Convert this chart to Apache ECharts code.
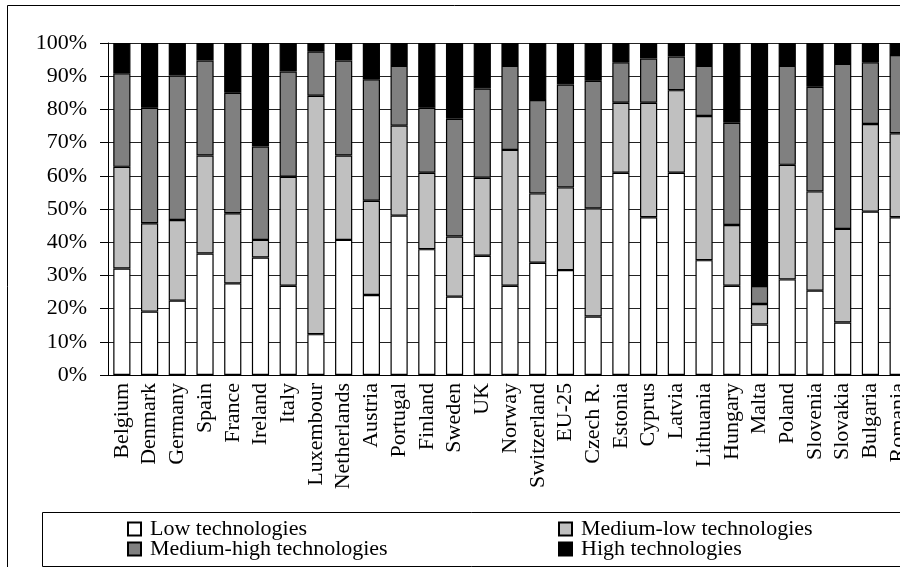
<!DOCTYPE html>
<html>
<head>
<meta charset="utf-8">
<title>Technology levels by country</title>
<script src="https://cdn.jsdelivr.net/npm/echarts/dist/echarts.min.js"></script>
<style>
  html, body { margin: 0; padding: 0; background: #fff; }
  #chart { width: 900px; height: 567px; }
</style>
</head>
<body>
<div id="chart"></div>
<script>
// shares in %
const countries = ['Belgium', 'Denmark', 'Germany', 'Spain', 'France', 'Ireland', 'Italy', 'Luxembour',
  'Netherlands', 'Austria', 'Portugal', 'Finland', 'Sweden', 'UK', 'Norway', 'Switzerland', 'EU-25',
  'Czech R.', 'Estonia', 'Cyprus', 'Latvia', 'Lithuania', 'Hungary', 'Malta', 'Poland', 'Slovenia',
  'Slovakia', 'Bulgaria', 'Romania']

const lowTech = [32.1, 19.1, 22.4, 36.6, 27.6, 35.4, 26.9, 12.3, 40.7, 24.1, 48.0, 37.9, 23.6, 35.9, 26.9,
  33.8, 31.6, 17.6, 60.9, 47.5, 60.9, 34.6, 26.9, 15.2, 28.8, 25.4, 15.8, 49.2, 47.5]
const mediumLowTech = [30.6, 26.6, 24.3, 29.5, 21.1, 5.3, 32.8, 71.8, 25.4, 28.4, 27.1, 23.0, 18.1, 23.5, 40.9,
  20.9, 24.9, 32.6, 21.1, 34.5, 24.9, 43.4, 18.3, 6.2, 34.5, 29.9, 28.2, 26.4, 25.3]
const mediumHighTech = [28.2, 34.8, 43.5, 28.6, 36.3, 28.1, 31.7, 13.3, 28.6, 36.6, 18.0, 19.6, 35.5, 26.9, 25.3,
  28.1, 31.0, 38.4, 12.2, 13.3, 10.1, 15.1, 30.8, 5.4, 29.8, 31.5, 49.7, 18.6, 23.6]
const highTech = [9.1, 19.5, 9.8, 5.3, 15.0, 31.2, 8.6, 2.6, 5.3, 10.9, 6.9, 19.5, 22.8, 13.7, 6.9,
  17.2, 12.5, 11.4, 5.8, 4.7, 4.1, 6.9, 24.0, 73.2, 6.9, 13.2, 6.3, 5.8, 3.6]

const seriesNames = ['Low technologies', 'Medium-low technologies', 'Medium-high technologies', 'High technologies']
const seriesColors = ['#ffffff', '#c0c0c0', '#808080', '#000000']
const seriesData = [lowTech, mediumLowTech, mediumHighTech, highTech]

const font = 'Liberation Serif'

const chart = echarts.init(document.getElementById('chart'))

const legendText = {
  fontFamily: font,
  fontSize: 22,
  color: '#000',
  lineHeight: 20,
  padding: [0, 0, 0, 4]
}

const option = {
  animation: false,
  backgroundColor: '#fff',
  graphic: [
    {
      type: 'rect',
      shape: { x: 7.5, y: 5.5, width: 1000, height: 1000 },
      style: { fill: 'none', stroke: '#000', lineWidth: 1 },
      silent: true
    },
    {
      type: 'rect',
      shape: { x: 42.5, y: 512.5, width: 1000, height: 54 },
      style: { fill: 'none', stroke: '#000', lineWidth: 1 },
      silent: true
    }
  ],
  legend: [
    {
      data: [seriesNames[0], seriesNames[2]],
      orient: 'vertical',
      left: 127,
      top: 518,
      padding: 0,
      itemGap: -2,
      itemWidth: 13,
      itemHeight: 13,
      icon: 'rect',
      textStyle: legendText
    },
    {
      data: [seriesNames[1], seriesNames[3]],
      orient: 'vertical',
      left: 558,
      top: 518,
      padding: 0,
      itemGap: -2,
      itemWidth: 13,
      itemHeight: 13,
      icon: 'rect',
      textStyle: legendText
    }
  ],
  grid: {
    left: 108,
    top: 43,
    width: 804,
    bottom: 192,
    containLabel: false,
    outerBoundsMode: 'none'
  },
  xAxis: {
    type: 'category',
    data: countries,
    axisLine: { lineStyle: { color: '#000', width: 1 } },
    axisTick: { show: false },
    axisLabel: {
      interval: 0,
      rotate: 90,
      margin: 8,
      fontFamily: font,
      fontSize: 22,
      color: '#000'
    }
  },
  yAxis: {
    type: 'value',
    min: 0,
    max: 100,
    interval: 10,
    axisLine: { show: true, lineStyle: { color: '#000', width: 1 } },
    axisTick: { show: true, length: 8, lineStyle: { color: '#000' } },
    axisLabel: {
      formatter: '{value}%',
      margin: 21,
      fontFamily: font,
      fontSize: 22,
      color: '#000'
    },
    splitLine: { lineStyle: { color: '#222', width: 1 } }
  },
  series: seriesNames.map((name, i) => ({
    name: name,
    type: 'bar',
    stack: 'total',
    barCategoryGap: '38%',
    itemStyle: { color: seriesColors[i], borderColor: '#000', borderWidth: 1.2 },
    data: seriesData[i]
  }))
}

chart.setOption(option)
</script>
</body>
</html>
